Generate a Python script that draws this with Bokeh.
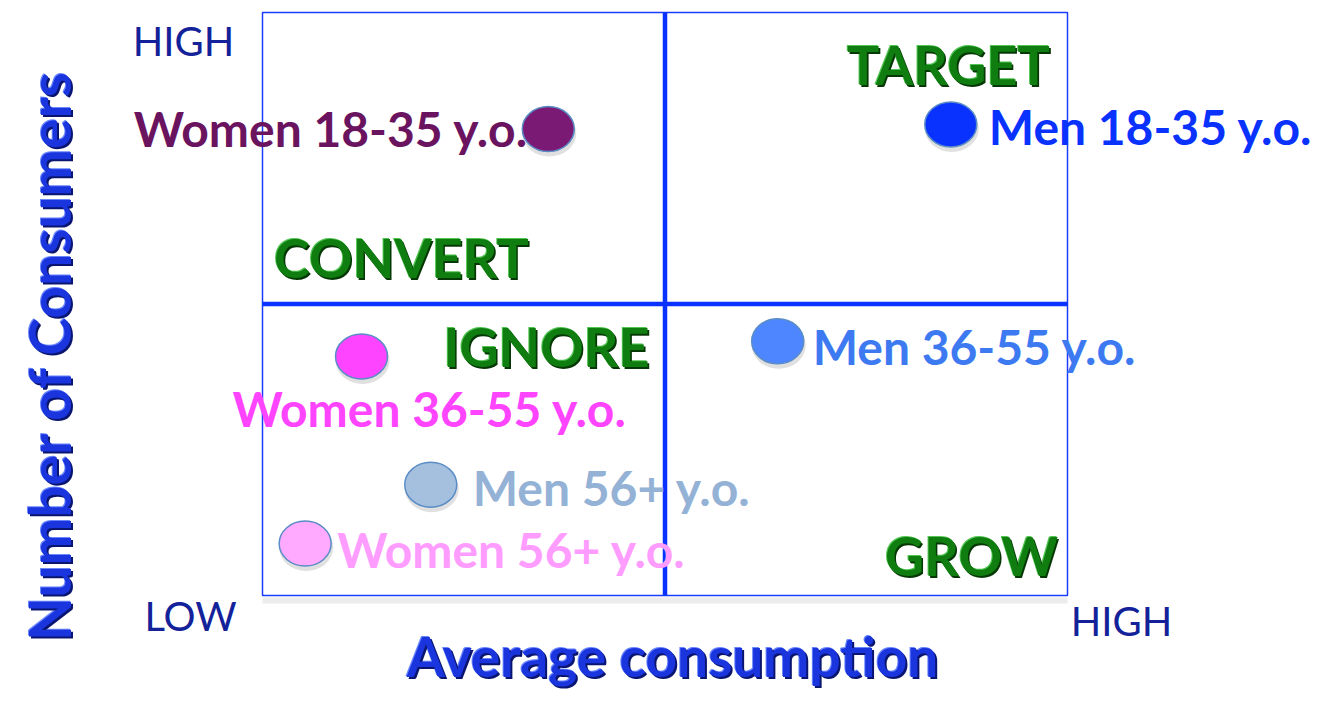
from bokeh.plotting import figure
from bokeh.models import Range1d, ColumnDataSource
from bokeh.core.properties import value
from bokeh.embed import file_html
from bokeh.resources import INLINE
import math

# ---- data ----
segments = ["Women 18-35 y.o.", "Men 18-35 y.o.", "Women 36-55 y.o.",
            "Men 36-55 y.o.", "Men 56+ y.o.", "Women 56+ y.o."]
avg_consumption = [3.55, 8.55, 1.23, 6.40, 2.09, 0.53]
num_consumers = [8.0, 8.08, 4.10, 4.36, 1.90, 0.89]
quadrant_names = ["TARGET", "CONVERT", "IGNORE", "GROW"]
low_label, high_label = "LOW", "HIGH"
x_title = "Average consumption"
y_title = "Number of Consumers"

# ---- styles ----
fill_colors = ["#7b1a74", "#0a32ff", "#ff44ff", "#4d86ff", "#a5bfdf", "#ffaaff"]
text_colors = ["#6a145f", "#0a32ff", "#ff44ff", "#3d7af2", "#94b2d6", "#ff9cff"]
label_align = ["right", "left", "left", "left", "left", "left"]
label_dx = [-20, 38, -129, 35, 42, 32]
label_dy = [-1, 2, 52, 5, 3, 6]

# layout (canvas pixels)
W, H = 1317, 694
box_l, box_r, box_t, box_b = 262, 1067, 12, 595
sx = (box_r - box_l) / 10.0
sy = (box_b - box_t) / 10.0
x0, x1 = -box_l / sx, (W - box_l) / sx
y1 = 10 + box_t / sy
y0 = 10 - (H - box_t) / sy

def px(xp):
    return (xp - box_l) / sx

def py(yp):
    return 10 - (yp - box_t) / sy

p = figure(width=W, height=H, output_backend="svg", toolbar_location=None,
           x_range=Range1d(x0, x1), y_range=Range1d(y0, y1),
           x_axis_location=None, y_axis_location=None, min_border=0)
p.grid.visible = False
p.outline_line_color = None
p.background_fill_color = "white"

# box shadow
p.line([0.0, 10.0], [-5 / sy, -5 / sy], line_color="#ececec", line_width=6)
# quadrant box
p.quad(left=[0], right=[10], bottom=[0], top=[10], fill_color=None,
       line_color="#1a3cff", line_width=1.5)
p.line([5, 5], [0, 10], line_color="#0a32ff", line_width=4.5)
p.line([0, 10], [5, 5], line_color="#0a32ff", line_width=4.5)

# quadrant labels
q_x = [px(948), px(401), px(546), px(971)]
q_y = [py(64), py(257), py(346), py(555)]
qsrc = ColumnDataSource(dict(x=q_x, y=q_y, t=quadrant_names))
for dx, dy, col in [(-1, -1, "#52c452"), (1.6, 1.6, "#063806"), (0, 0, "#0f7d0f")]:
    p.text(x="x", y="y", text="t", source=qsrc, text_color=col,
           text_font=value("Lato"), text_font_style="bold", text_font_size="54px",
           text_align="center", text_baseline="middle", x_offset=dx, y_offset=dy)

# low/high labels
p.text(x=[px(183), px(190), px(1121)], y=[py(40), py(615), py(620)],
       text=[high_label, low_label, high_label], text_color="#14229a",
       text_font=value("Lato"), text_font_size="40px",
       text_align="center", text_baseline="middle")

# axis titles
for dx, dy, col in [(-1, -1, "#6a86ff"), (2, 2, "#0a1570"), (0, 0, "#1a35dd")]:
    p.text(x=[px(672)], y=[py(655)], text=[x_title], text_color=col,
           text_font=value("Lato"), text_font_style="bold", text_font_size="55px",
           text_align="center", text_baseline="middle", x_offset=dx, y_offset=dy)
    p.text(x=[px(48)], y=[py(355)], text=[y_title], text_color=col,
           text_font=value("Lato"), text_font_style="bold", text_font_size="57px",
           text_align="center", text_baseline="middle", angle=math.pi / 2,
           x_offset=dx, y_offset=dy)

# points
src = ColumnDataSource(dict(x=avg_consumption, y=num_consumers, seg=segments,
                            fc=fill_colors, tc=text_colors, al=label_align,
                            dx=label_dx, dy=label_dy,
                            ys=[v - 4 / sy for v in num_consumers],
                            xs=[v + 1 / sx for v in avg_consumption]))
p.ellipse(x="xs", y="ys", width=54, height=47, width_units="screen",
          height_units="screen", source=src, fill_color="#000000",
          fill_alpha=0.12, line_color=None)
p.ellipse(x="x", y="y", width=52, height=45, width_units="screen",
          height_units="screen", source=src, fill_color="fc",
          line_color="#5a8cc6", line_width=1.5)
p.text(x="x", y="y", text="seg", source=src, text_color="tc",
       text_font=value("Lato"), text_font_style="bold", text_font_size="48px",
       text_align="al", text_baseline="middle", x_offset="dx", y_offset="dy")

open("out.html", "w").write(file_html(p, INLINE))
